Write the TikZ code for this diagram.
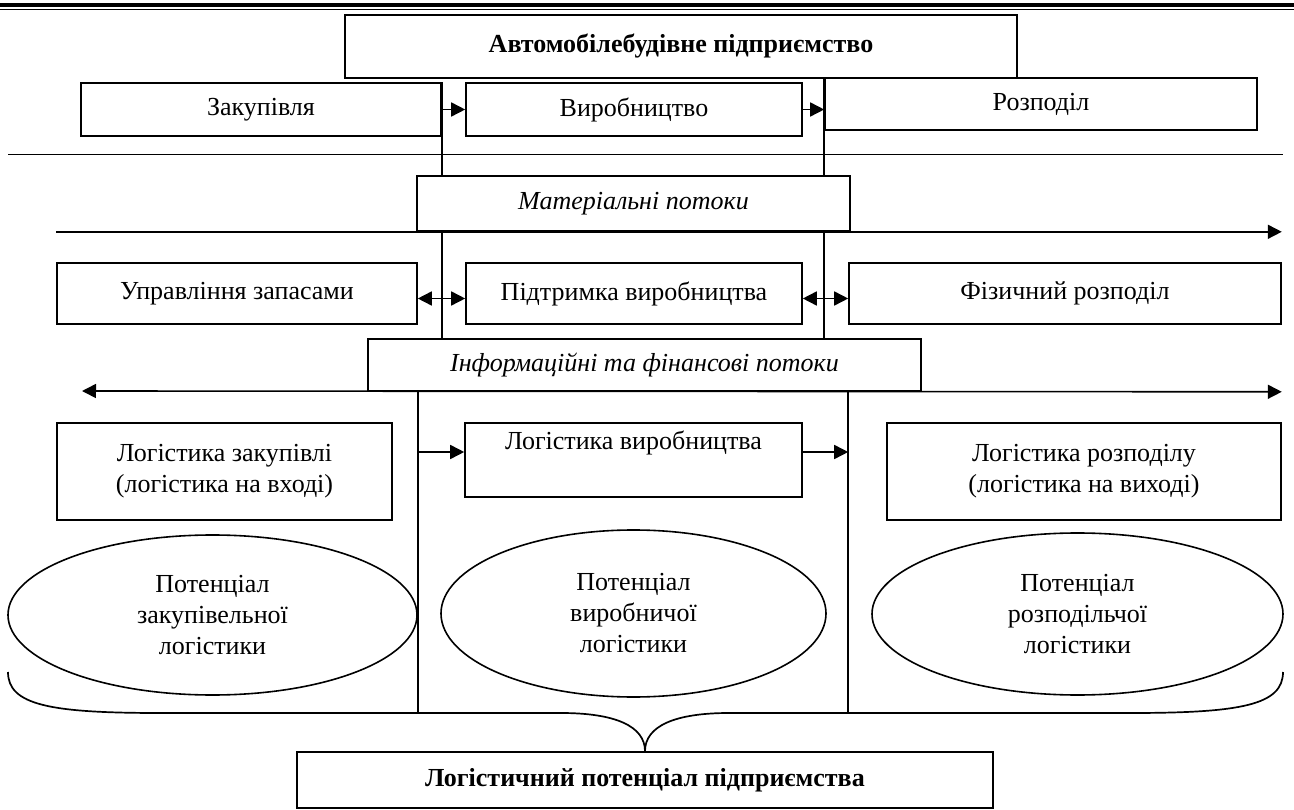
\documentclass[tikz,border=0pt]{standalone}
\usepackage{fontspec}
\setmainfont{Liberation Serif}
\usetikzlibrary{arrows.meta,shapes.geometric,backgrounds}
\newcommand\diagfont{\fontsize{26}{31}\selectfont}
\begin{document}
\begin{tikzpicture}[x=1pt,y=-1pt,
  lw/.style={line width=1.6pt},
  box/.style={draw,lw,fill=white,inner sep=0pt,align=center,font=\diagfont},
  oval/.style={ellipse,draw,lw,fill=white,inner sep=0pt,align=center,font=\diagfont},
  arr/.style={lw,-{Triangle[length=14pt,width=14pt]}},
  darr/.style={lw,{Triangle[length=14pt,width=14pt]}-{Triangle[length=14pt,width=14pt]}}]
\useasboundingbox (0,0) rectangle (1294,810);

% page rules
\draw[line width=4pt] (0,4.7) -- (1294,4.7);
\draw[line width=1.4pt] (0,9.5) -- (1294,9.5);

% enterprise and its functions
\node[box,minimum width=672pt,minimum height=63pt,font=\diagfont\bfseries] (ent) at (681,46.5) {Автомобілебудівне підприємство};
\node[box,minimum width=360pt,minimum height=53pt] (zak) at (261,109.5) {Закупівля};
\node[box,minimum width=336pt,minimum height=53pt] (vyr) at (634,109.5) {Виробництво};
\node[box,minimum width=432pt,minimum height=52pt] (rozp) at (1041,104) {Розподіл};

% flows
\node[box,minimum width=433pt,minimum height=55pt,font=\diagfont\itshape] (mat) at (633.5,203.5) {Матеріальні потоки};
\node[box,minimum width=360pt,minimum height=61pt] (upr) at (237,293.5) {Управління запасами};
\node[box,minimum width=336pt,minimum height=61pt] (pidt) at (634,293.5) {Підтримка виробництва};
\node[box,minimum width=432pt,minimum height=61pt] (fiz) at (1065,293.5) {Фізичний розподіл};
\node[box,minimum width=553pt,minimum height=52pt,font=\diagfont\itshape] (info) at (644.5,365) {Інформаційні та фінансові потоки};

% logistics subsystems
\node[box,minimum width=335pt,minimum height=97pt] (lz) at (224.5,471.5) {Логістика закупівлі\\(логістика на вході)};
\node[box,minimum width=337pt,minimum height=74pt] (lv) at (633.5,460) {Логістика виробництва\\\strut};
\node[box,minimum width=394pt,minimum height=97pt] (lr) at (1084,471.5) {Логістика розподілу\\(логістика на виході)};

% potentials
\node[oval,minimum width=409pt,minimum height=160pt] (pz) at (212.5,615) {Потенціал\\закупівельної\\логістики};
\node[oval,minimum width=385pt,minimum height=167pt] (pv) at (633.5,613.5) {Потенціал\\виробничої\\логістики};
\node[oval,minimum width=411pt,minimum height=162pt] (pr) at (1077.5,614) {Потенціал\\розподільчої\\логістики};

% result
\node[box,minimum width=696pt,minimum height=56pt,font=\diagfont\bfseries] (res) at (645,780) {Логістичний потенціал підприємства};

% helper points
\coordinate (braceL) at (upr.east |- 0,713);
\coordinate (braceR) at (fiz.west |- 0,713);
\coordinate (infoL) at (82,391);
\coordinate (lvIn) at ([yshift=8pt]lv.west);
\coordinate (lvOut) at ([yshift=8pt]lv.east);

\begin{scope}[on background layer]
  \draw[lw] (8,154.5) -- (1283,154.5);
  \draw[lw] (zak.north east) -- (zak.north east |- info.north);
  \draw[lw] (rozp.north west) -- (rozp.north west |- info.north);
  \draw[arr] (upr.west |- mat.south) -- (fiz.east |- mat.south);
  \draw[darr] (infoL) -- (fiz.east |- info.south);
  \draw[lw] (upr.east |- info.south) -- (braceL);
  \draw[lw] (fiz.west |- info.south) -- (braceR);
\end{scope}

% function chain
\draw[arr] (zak.east) -- (vyr.west);
\draw[arr] (vyr.east) -- (rozp.west |- vyr.east);
% support links
\draw[darr] ([yshift=-5pt]upr.east) -- ([yshift=-5pt]pidt.west);
\draw[darr] ([yshift=-5pt]pidt.east) -- ([yshift=-5pt]fiz.west);
% logistics chain
\draw[arr] (braceL |- lvIn) -- (lvIn);
\draw[arr] (lvOut) -- (braceR |- lvOut);

% brace gathering the potentials
\draw[line width=1.7pt] (8,672) .. controls (8,705) and (50,713) .. (160,713)
  -- (561,713) .. controls (615,713) and (645,726) .. (res.north)
  .. controls (645,726) and (675,713) .. (729,713)
  -- (1130,713) .. controls (1241,713) and (1283,705) .. (1283,672);
\end{tikzpicture}
\end{document}
